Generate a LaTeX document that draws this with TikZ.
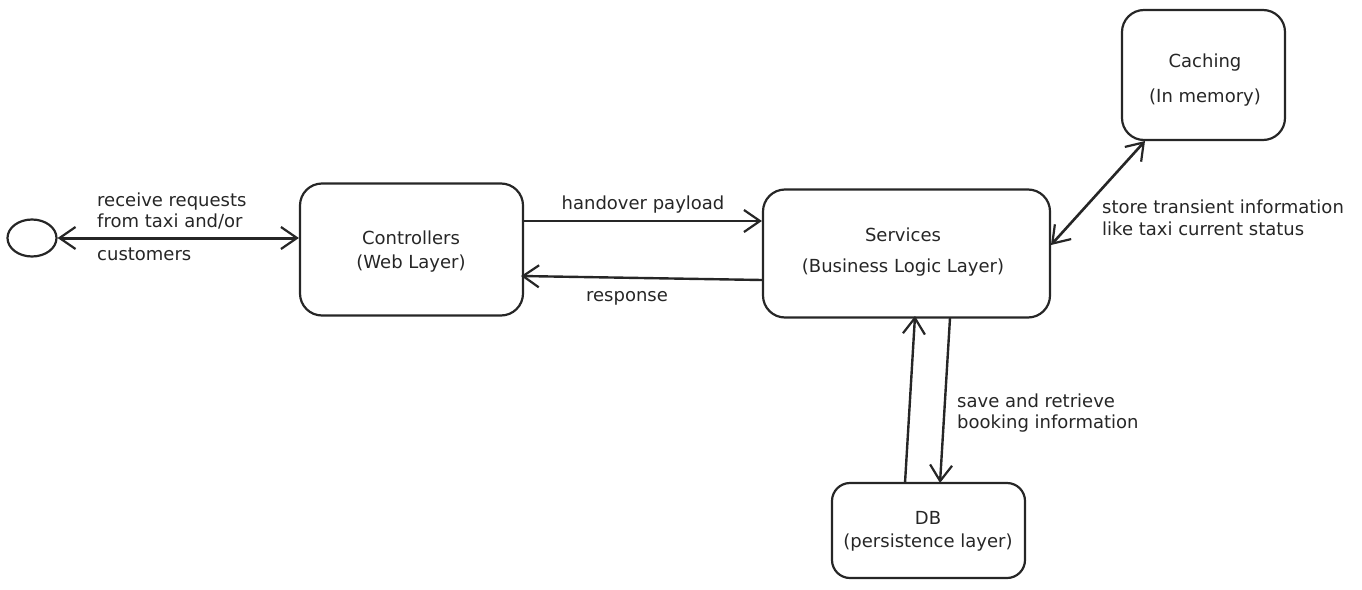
\documentclass[tikz,border=0pt]{standalone}
\usepackage{fontspec}
\setmainfont{DejaVu Sans}
\usetikzlibrary{arrows.meta,shapes.geometric}
\begin{document}
\begin{tikzpicture}[x=1pt,y=-1pt,
  box/.style={draw=black!85,line width=2.2pt,rounded corners=22pt,inner sep=0pt},
  lbl/.style={font=\fontsize{18}{21.5}\selectfont,text=black!85,inner sep=0pt},
  conn/.style={draw=black!85,line width=2.4pt,-{Straight Barb[length=16pt,width=22pt,line width=2.2pt]}},
  biconn/.style={draw=black!85,line width=3pt,{Straight Barb[length=16pt,width=22pt,line width=2.2pt]}-{Straight Barb[length=16pt,width=22pt,line width=2.2pt]}}
]
\useasboundingbox (0,0) rectangle (1362,589);
\node[draw=black!85,line width=2.2pt,ellipse,minimum width=49pt,minimum height=37pt,inner sep=0pt] (client) at (32,238) {};
\node[box,minimum width=223pt,minimum height=132pt] (ctrl) at (411.5,249.5) {};
\node[lbl] at (411,238) {Controllers};
\node[lbl] at (411,264) {(Web Layer)};
\node[box,minimum width=287pt,minimum height=128pt] (svc) at (906.5,253.5) {};
\node[lbl] at (903,235) {Services};
\node[lbl] at (903,268) {(Business Logic Layer)};
\node[box,minimum width=163pt,minimum height=130pt] (cache) at (1203.5,75) {};
\node[lbl] at (1205,63) {Caching};
\node[lbl] at (1205,98) {(In memory)};
\node[box,minimum width=193pt,minimum height=95pt,rounded corners=18pt] (db) at (928.5,530.5) {};
\node[lbl] at (928,518) {DB};
\node[lbl] at (928,543) {(persistence layer)};
% connectors
\draw[biconn] (client.east) -- (ctrl.west |- client.east);
\node[lbl,anchor=west,align=left] at (97,211) {receive requests\\from taxi and/or};
\node[lbl,anchor=west] at (97,254) {customers};
\coordinate (h1) at (ctrl.east |- 0,221);
\coordinate (h2) at (svc.west |- 0,221);
\draw[conn] (h1) -- (h2);
\node[lbl] at (643,205) {handover payload};
\coordinate (r1) at (svc.west |- 0,280);
\coordinate (r2) at (521,276);
\draw[conn] (r1) -- (r2);
\node[lbl] at (627,298) {response};
\coordinate (c1) at (1145,141);
\coordinate (c2) at (1051,245);
\draw[biconn,line width=2.6pt] (c1) -- (c2);
\node[lbl,anchor=west,align=left] at (1102,218) {store transient information\\like taxi current status};
\coordinate (u1) at (905,483);
\coordinate (u2) at (915,316);
\draw[conn] (u1) -- (u2);
\coordinate (d1) at (950,318);
\coordinate (d2) at (940,483);
\draw[conn] (d1) -- (d2);
\node[lbl,anchor=west,align=left] at (957,413) {save and retrieve\\booking information};
\end{tikzpicture}
\end{document}
